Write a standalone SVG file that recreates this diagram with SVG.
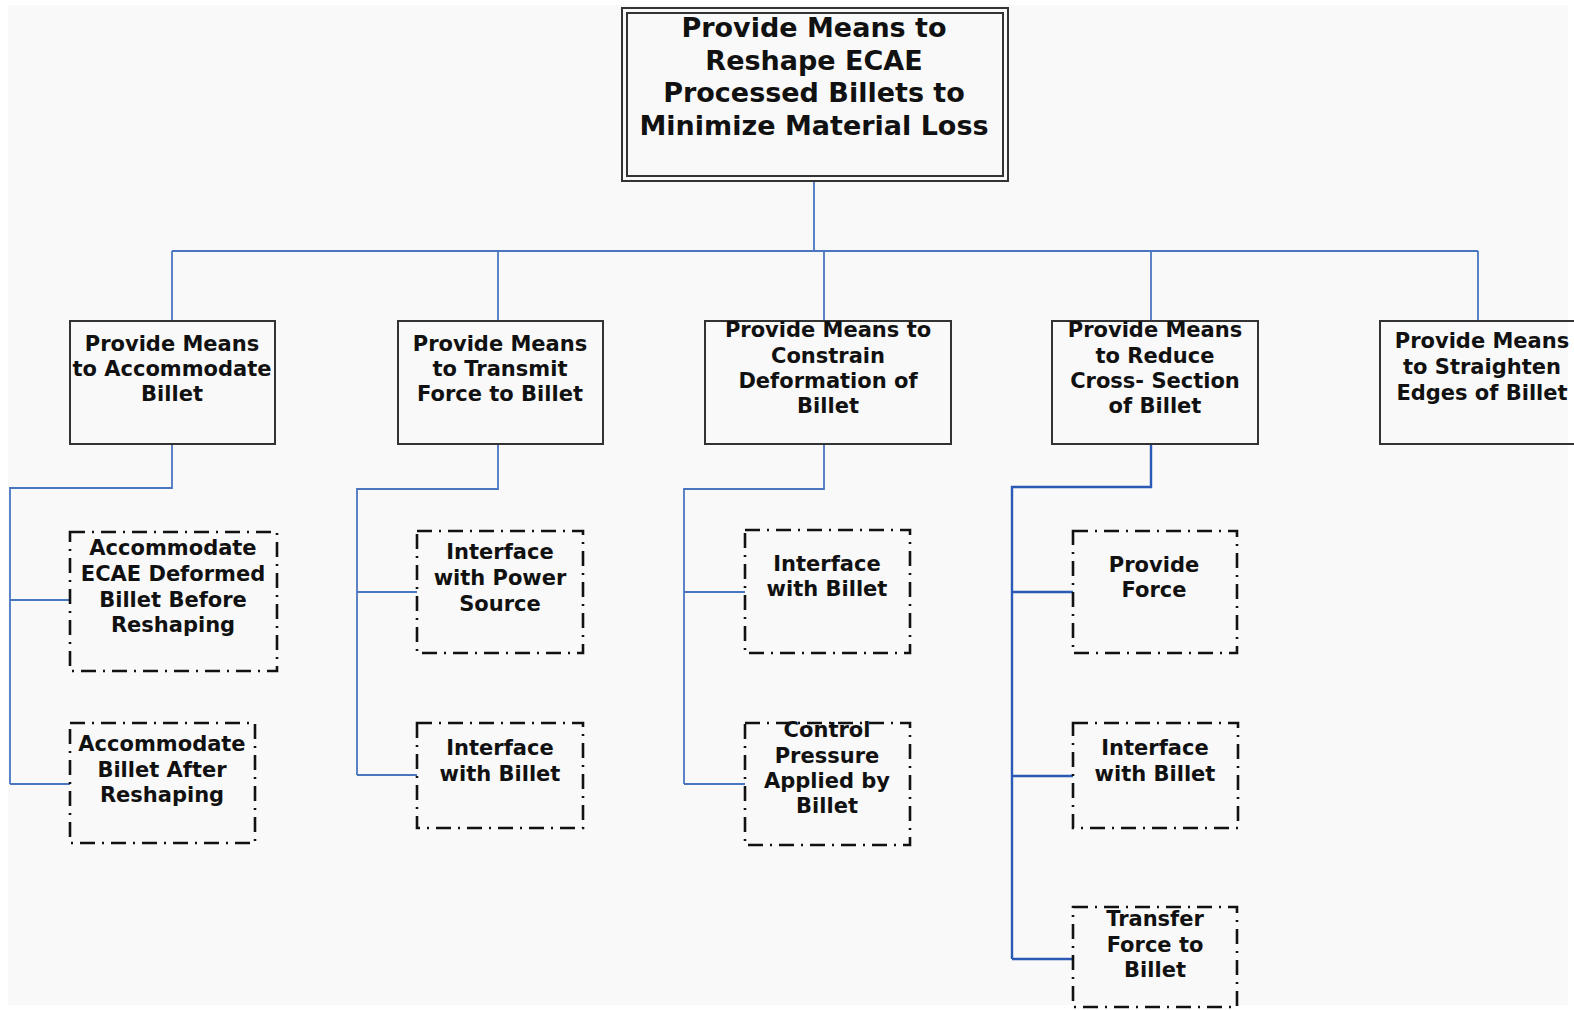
<svg xmlns="http://www.w3.org/2000/svg" width="1574" height="1010" viewBox="0 0 1574 1010">
<style>
.t{font-family:"DejaVu Sans","Liberation Sans",sans-serif;font-weight:bold;fill:#111;text-anchor:middle}
.title{font-size:27px}
.l2{font-size:21px}
.l3{font-size:21px}
.box{fill:none;stroke:#333;stroke-width:2}
.dbox{fill:none;stroke:#111;stroke-width:2.6;stroke-dasharray:15 7 2 7}
.c{fill:none;stroke:#4a76c0;stroke-width:1.8}
.c4{fill:none;stroke:#2a5ab5;stroke-width:2.4}
</style>
<rect x="0" y="0" width="1574" height="1010" fill="#ffffff"/>
<rect x="8" y="5" width="1560" height="1000" fill="#f9f9f9"/>
<g id="connectors">
<path class="c" d="M814 182V251M172 251H1478M172 251V321M498 251V321M824 251V321M1151 251V321M1478 251V321"/>
<path class="c" d="M172 444V488H10V784M10 600H70M10 784H70"/>
<path class="c" d="M498 444V489H357V775M357 592H417M357 775H417"/>
<path class="c" d="M824 444V489H684V784M684 592H745M684 784H745"/>
<path class="c4" d="M1151 444V487H1012V959M1012 592H1073M1012 776H1073M1012 959H1073"/>
</g>
<g id="n0">
<rect class="box" x="622" y="8" width="386" height="173" stroke-width="2.5"/>
<rect class="box" x="627" y="13" width="376" height="163"/>
<text class="t title" x="814" y="37">Provide Means to</text>
<text class="t title" x="814" y="70">Reshape ECAE</text>
<text class="t title" x="814" y="102">Processed Billets to</text>
<text class="t title" x="814" y="135">Minimize Material Loss</text>
</g>
<g id="n1">
<rect class="box" x="70" y="321" width="205" height="123"/>
<text class="t l2" x="172" y="351">Provide Means</text>
<text class="t l2" x="172" y="376">to Accommodate</text>
<text class="t l2" x="172" y="401">Billet</text>
</g>
<g id="n2">
<rect class="box" x="398" y="321" width="205" height="123"/>
<text class="t l2" x="500" y="351">Provide Means</text>
<text class="t l2" x="500" y="376">to Transmit</text>
<text class="t l2" x="500" y="401">Force to Billet</text>
</g>
<g id="n3">
<rect class="box" x="705" y="321" width="246" height="123"/>
<text class="t l2" x="828" y="337">Provide Means to</text>
<text class="t l2" x="828" y="363">Constrain</text>
<text class="t l2" x="828" y="388">Deformation of</text>
<text class="t l2" x="828" y="413">Billet</text>
</g>
<g id="n4">
<rect class="box" x="1052" y="321" width="206" height="123"/>
<text class="t l2" x="1155" y="337">Provide Means</text>
<text class="t l2" x="1155" y="363">to Reduce</text>
<text class="t l2" x="1155" y="388">Cross- Section</text>
<text class="t l2" x="1155" y="413">of Billet</text>
</g>
<g id="n5">
<rect class="box" x="1380" y="321" width="206" height="123"/>
<text class="t l2" x="1482" y="348">Provide Means</text>
<text class="t l2" x="1482" y="374">to Straighten</text>
<text class="t l2" x="1482" y="400">Edges of Billet</text>
</g>
<g id="n1a">
<rect class="dbox" x="70" y="532" width="207" height="139"/>
<text class="t l3" x="173" y="555">Accommodate</text>
<text class="t l3" x="173" y="581">ECAE Deformed</text>
<text class="t l3" x="173" y="607">Billet Before</text>
<text class="t l3" x="173" y="632">Reshaping</text>
</g>
<g id="n1b">
<rect class="dbox" x="70" y="723" width="185" height="120"/>
<text class="t l3" x="162" y="751">Accommodate</text>
<text class="t l3" x="162" y="777">Billet After</text>
<text class="t l3" x="162" y="802">Reshaping</text>
</g>
<g id="n2a">
<rect class="dbox" x="417" y="531" width="166" height="122"/>
<text class="t l3" x="500" y="559">Interface</text>
<text class="t l3" x="500" y="585">with Power</text>
<text class="t l3" x="500" y="611">Source</text>
</g>
<g id="n2b">
<rect class="dbox" x="417" y="723" width="166" height="105"/>
<text class="t l3" x="500" y="755">Interface</text>
<text class="t l3" x="500" y="781">with Billet</text>
</g>
<g id="n3a">
<rect class="dbox" x="745" y="530" width="165" height="123"/>
<text class="t l3" x="827" y="571">Interface</text>
<text class="t l3" x="827" y="596">with Billet</text>
</g>
<g id="n3b">
<rect class="dbox" x="745" y="723" width="165" height="122"/>
<text class="t l3" x="827" y="737">Control</text>
<text class="t l3" x="827" y="763">Pressure</text>
<text class="t l3" x="827" y="788">Applied by</text>
<text class="t l3" x="827" y="813">Billet</text>
</g>
<g id="n4a">
<rect class="dbox" x="1073" y="531" width="164" height="122"/>
<text class="t l3" x="1154" y="572">Provide</text>
<text class="t l3" x="1154" y="597">Force</text>
</g>
<g id="n4b">
<rect class="dbox" x="1073" y="723" width="165" height="105"/>
<text class="t l3" x="1155" y="755">Interface</text>
<text class="t l3" x="1155" y="781">with Billet</text>
</g>
<g id="n4c">
<rect class="dbox" x="1073" y="907" width="164" height="100"/>
<text class="t l3" x="1155" y="926">Transfer</text>
<text class="t l3" x="1155" y="952">Force to</text>
<text class="t l3" x="1155" y="977">Billet</text>
</g>
</svg>
